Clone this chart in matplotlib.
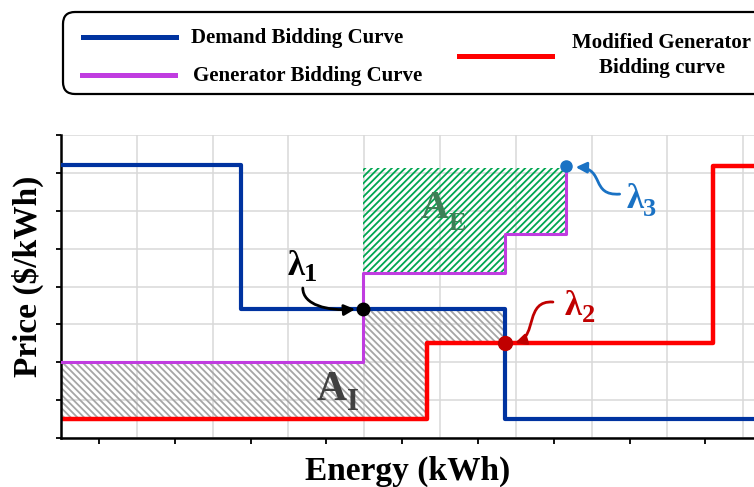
import numpy as np
import matplotlib
matplotlib.use('Agg')
import matplotlib.pyplot as plt
from matplotlib.patches import FancyBboxPatch, FancyArrowPatch
from matplotlib.lines import Line2D
from matplotlib.path import Path

plt.rcParams['font.family'] = ['Liberation Serif', 'DejaVu Serif']
plt.rcParams['font.weight'] = 'bold'
plt.rcParams['hatch.linewidth'] = 1.3

# step curves: x = start of each step, y = level from that x on
demand_x = [0, 2.37, 5.86, 10.0]
demand_y = [7.2, 3.4, 0.5, 0.5]
gen_x = [0, 3.98, 5.86, 6.66]
gen_y = [2.0, 4.35, 5.38, 7.18]
mod_x = [0, 4.83, 8.6, 10.0]
mod_y = [0.5, 2.5, 7.18, 7.18]

# market clearing points
lam1 = (3.98, 3.4)
lam2 = (5.86, 2.5)
lam3 = (6.66, 7.18)
ae_top = 7.13

c_dem = '#0033a0'
c_gen = '#c03ce0'
c_mod = '#ff0000'
c_lam2 = '#c00000'
c_lam3 = '#1a72c4'


def step_at(xs, ys, x):
    i = np.searchsorted(xs, x, side='right') - 1
    return np.asarray(ys)[np.clip(i, 0, len(ys) - 1)]


def sub_label(ax, x, y, ysub, main, sub, size, subsize, color):
    # main letter ends at x, subscript starts at x
    ax.text(x, y, main, fontsize=size, color=color, ha='right', va='baseline', zorder=6)
    ax.text(x, ysub, sub, fontsize=subsize, color=color, ha='left', va='baseline', zorder=6)


def curved_arrow(ax, pts, color):
    p = Path(pts, [Path.MOVETO, Path.CURVE4, Path.CURVE4, Path.CURVE4])
    ax.add_patch(FancyArrowPatch(path=p, arrowstyle='-|>', mutation_scale=16, color=color,
                                 lw=2.0, zorder=6))


fig = plt.figure(figsize=(7.54, 4.87), dpi=100)
ax = fig.add_axes([61 / 754, 49 / 487, 758 / 754, 303 / 487])
ax.set_xlim(0, 10)
ax.set_ylim(0, 8)

# A_I area: between modified curve and min(generator, demand)
xb = np.array(sorted(set([x for x in demand_x + gen_x + mod_x if x <= lam2[0]])))
upper = np.minimum(step_at(gen_x, gen_y, xb), step_at(demand_x, demand_y, xb))
lower = step_at(mod_x, mod_y, xb)
ax.fill_between(xb, lower, upper, step='post', facecolor='none',
                edgecolor='#a6a6a6', hatch='\\' * 5, linewidth=0, zorder=1)

# A_E area: above generator curve up to lambda 3
xg = np.array([x for x in gen_x if x >= lam1[0]])
ax.fill_between(xg, step_at(gen_x, gen_y, xg), ae_top, step='post', facecolor='none',
                edgecolor='#00a651', hatch='/' * 5, linewidth=0, zorder=1)

l_dem, = ax.plot(demand_x, demand_y, drawstyle='steps-post', color=c_dem, lw=3, zorder=3)
l_gen, = ax.plot(gen_x, gen_y, drawstyle='steps-post', color=c_gen, lw=2.2, zorder=3)
l_mod, = ax.plot(mod_x, mod_y, drawstyle='steps-post', color=c_mod, lw=3.2, zorder=2)

ax.plot(*lam1, 'o', color='black', ms=9, zorder=5)
ax.plot(*lam2, 'o', color=c_lam2, ms=10, zorder=5)
ax.plot(*lam3, 'o', color=c_lam3, ms=8, zorder=5)

sub_label(ax, 3.21, 4.30, 4.15, '\u03bb', '1', 25, 19, 'black')
curved_arrow(ax, [(3.19, 3.96), (3.19, 3.51), (3.52, 3.35), (3.88, 3.40)], 'black')
sub_label(ax, 6.87, 3.25, 3.06, '\u03bb', '2', 25, 19, c_lam2)
curved_arrow(ax, [(6.49, 3.59), (6.12, 3.64), (6.28, 2.69), (5.99, 2.51)], c_lam2)
sub_label(ax, 7.68, 6.07, 5.85, '\u03bb', '3', 25, 19, c_lam3)
curved_arrow(ax, [(7.37, 6.44), (6.98, 6.39), (7.18, 7.12), (6.79, 7.15)], c_lam3)

sub_label(ax, 3.77, 1.00, 0.74, 'A', 'I', 30, 22, '#404040')
sub_label(ax, 5.11, 5.80, 5.49, 'A', 'E', 28, 19, '#3d7f56')

ax.set_xticks(np.arange(0, 11))
ax.set_xticks(np.arange(0.5, 10, 1), minor=True)
ax.set_yticks(np.arange(0, 9))
ax.set_xticklabels([])
ax.set_yticklabels([])
ax.grid(True, which='major', color='#d9d9d9', lw=1.1)
ax.set_axisbelow(True)
ax.tick_params(axis='x', which='major', length=0)
ax.tick_params(axis='x', which='minor', length=4, width=1.3, direction='out')
ax.tick_params(axis='y', which='major', length=3.5, width=1.3, direction='out')
for s in ['top', 'right']:
    ax.spines[s].set_visible(False)
for s in ['left', 'bottom']:
    ax.spines[s].set_linewidth(1.8)

fig.text(4.08, 0.07, 'Energy (kWh)', transform=fig.dpi_scale_trans, fontsize=24,
         fontweight='bold', ha='center', va='baseline')
fig.text(0.28, 2.11, 'Price ($/kWh)', transform=fig.dpi_scale_trans, fontsize=24,
         fontweight='bold', ha='center', va='center', rotation=90)

# legend box, built by hand (right part is cut off like the original)
tr = fig.dpi_scale_trans
fig.patches.append(FancyBboxPatch((0.63, 3.93), 7.4, 0.82, boxstyle='round,pad=0,rounding_size=0.12',
                                  transform=tr, facecolor='white', edgecolor='black', lw=1.6))
for line, (x0, x1, y) in [(l_dem, (0.83, 1.76, 4.50)), (l_gen, (0.82, 1.75, 4.12)),
                          (l_mod, (4.59, 5.52, 4.31))]:
    fig.lines.append(Line2D([x0, x1], [y, y], transform=tr, color=line.get_color(), lw=3.6))
fig.text(1.91, 4.44, 'Demand Bidding Curve', transform=tr, fontsize=15, ha='left', va='baseline')
fig.text(1.93, 4.06, 'Generator Bidding Curve', transform=tr, fontsize=15, ha='left', va='baseline')
fig.text(6.62, 4.39, 'Modified Generator', transform=tr, fontsize=15, ha='center', va='baseline')
fig.text(6.62, 4.14, 'Bidding curve', transform=tr, fontsize=15, ha='center', va='baseline')

fig.savefig('out.png', dpi=100)
